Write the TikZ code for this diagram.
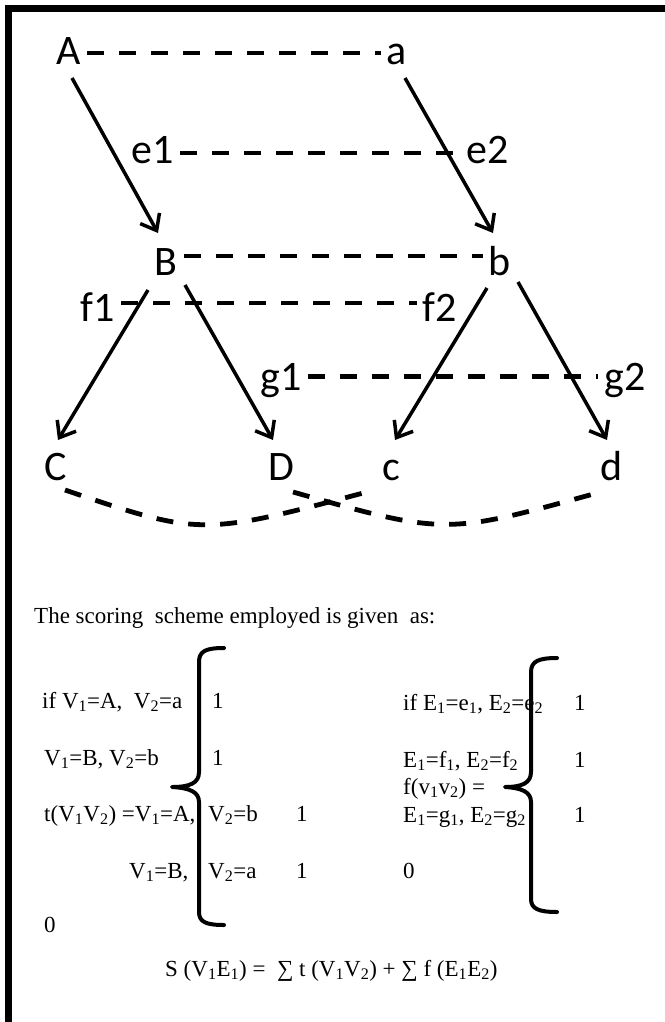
\documentclass[tikz,border=0pt]{standalone}
\usepackage{fontspec}
\setmainfont{Liberation Serif}
\newfontfamily\graphfont{Carlito}
\usetikzlibrary{arrows.meta,calc}
\begin{document}
\begin{tikzpicture}[x=1pt,y=-1pt,
  gtxt/.style={font=\graphfont\fontsize{42}{42}\selectfont, anchor=base, inner xsep=6pt, inner ysep=0pt, text height=27pt, text depth=0pt},
  arr/.style={line width=3.5pt, -{Straight Barb[length=14pt,width=22pt]}},
  dsh/.style={line width=4.8pt, dash pattern=on 17pt off 15pt},
  stxt/.style={font=\fontsize{23}{28}\selectfont, anchor=base west, inner sep=0pt},
  bracestyle/.style={line width=4pt, line cap=round, line join=round}]

\useasboundingbox (0,0) rectangle (664,1022);
\fill[white] (0,0) rectangle (664,1022);
\draw[line width=7pt] (8,1040) -- (8,8.5) -- (680,8.5);

% graph nodes
\node[gtxt] (A) at (69,65) {A};
\node[gtxt] (a) at (397,65) {a};
\node[gtxt] (e1) at (153,164) {e1};
\node[gtxt] (e2) at (488,164) {e2};
\node[gtxt] (B) at (166,275) {B};
\node[gtxt] (b) at (500,275) {b};
\node[gtxt] (f1) at (98,321) {f1};
\node[gtxt] (f2) at (440,321) {f2};
\node[gtxt] (g1) at (281,390) {g1};
\node[gtxt] (g2) at (625,390) {g2};
\node[gtxt] (C) at (56,480) {C};
\node[gtxt] (D) at (281,480) {D};
\node[gtxt] (c) at (391,480) {c};
\node[gtxt] (d) at (612,480) {d};

% dashed correspondences
\draw[dsh] ($(A.east)+(0,1.5)$) -- ($(a.west)+(0,1.5)$);
\draw[dsh] ($(e1.east)+(0,2.5)$) -- ($(e2.west)+(0,2.5)$);
\draw[dsh] ($(B.east)+(0,-5.5)$) -- ($(b.west)+(0,-5.5)$);
\draw[dsh] ($(f1.east)+(0,-4.5)$) -- ($(f2.west)+(0,-4.5)$);
\draw[dsh] (g1.east) -- (g2.west);
\draw[dsh] ($(C.base)+(9,10)$) .. controls (201,536) .. ($(c.base)+(-24,12)$);
\draw[dsh] ($(D.base)+(12,12)$) .. controls (445,535) .. ($(d.base)+(-15,13)$);

% arrows
\draw[arr] ($(A.base)+(3,13)$) -- ($(B.base)+(-8,-42)$);
\draw[arr] ($(a.base)+(8,13)$) -- ($(b.base)+(-7,-42)$);
\draw[arr] ($(B.base)+(-18,15)$) -- ($(C.base)+(2,-40)$);
\draw[arr] ($(B.base)+(19,10)$) -- ($(D.base)+(-8,-40)$);
\draw[arr] ($(b.base)+(-13,13)$) -- ($(c.base)+(4,-40)$);
\draw[arr] ($(b.base)+(18,7)$) -- ($(d.base)+(-5,-40)$);

% scoring text
\node[stxt] (title) at (34,623) {The scoring\ \ scheme employed is given\ \ as:};
\node[stxt] (l1) at (42,708) {if V\textsubscript{1}=A,\ \ V\textsubscript{2}=a};
\node[stxt] (l1v) at (212,708) {1};
\node[stxt] (l2) at (44,765) {V\textsubscript{1}=B, V\textsubscript{2}=b};
\node[stxt] (l2v) at (212,765) {1};
\node[stxt] (l3) at (44,821) {t(V\textsubscript{1}V\textsubscript{2}) =V\textsubscript{1}=A,};
\node[stxt] (l3b) at (208,821) {V\textsubscript{2}=b};
\node[stxt] (l3v) at (296,821) {1};
\node[stxt] (l4) at (129,878) {V\textsubscript{1}=B,};
\node[stxt] (l4b) at (208,878) {V\textsubscript{2}=a};
\node[stxt] (l4v) at (296,878) {1};
\node[stxt] (l5) at (44,932) {0};

\node[stxt] (r1) at (403,710) {if E\textsubscript{1}=e\textsubscript{1}, E\textsubscript{2}=e\textsubscript{2}};
\node[stxt] (r1v) at (574,710) {1};
\node[stxt] (r2) at (403,767) {E\textsubscript{1}=f\textsubscript{1}, E\textsubscript{2}=f\textsubscript{2}};
\node[stxt] (r2v) at (574,767) {1};
\node[stxt] (r3) at (403,794) {f(v\textsubscript{1}v\textsubscript{2}) =};
\node[stxt] (r4) at (403,822) {E\textsubscript{1}=g\textsubscript{1}, E\textsubscript{2}=g\textsubscript{2}};
\node[stxt] (r4v) at (574,822) {1};
\node[stxt] (r5) at (403,878) {0};

\node[stxt] (S) at (165,976) {S (V\textsubscript{1}E\textsubscript{1}) =\ \ ∑ t (V\textsubscript{1}V\textsubscript{2}) + ∑ f (E\textsubscript{1}E\textsubscript{2})};

% braces
\draw[bracestyle] (224,648) .. controls (206,648) and (199,651) .. (199,662) -- (199,772)
  .. controls (199,783) and (190,787) .. (172,787)
  .. controls (190,788) and (199,792) .. (199,802) -- (199,912)
  .. controls (199,922) and (206,925) .. (224,925);
\draw[bracestyle] (557,658) .. controls (539,658) and (531,661) .. (531,672) -- (531,772)
  .. controls (531,783) and (522,787) .. (505,787)
  .. controls (522,788) and (531,792) .. (531,802) -- (531,899)
  .. controls (531,909) and (539,912) .. (557,912);
\end{tikzpicture}
\end{document}
